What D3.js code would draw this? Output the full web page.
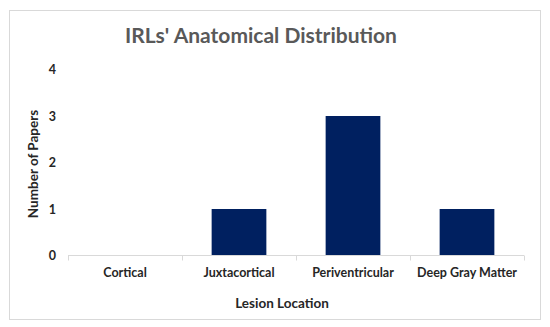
<!DOCTYPE html>
<html>
<head>
<meta charset="utf-8">
<script src="https://cdn.jsdelivr.net/npm/d3@7"></script>
<style>
  body { margin: 0; background: #fff; }
  svg { display: block; font-family: Lato, "Open Sans", sans-serif; }
</style>
</head>
<body>
<svg id="chart"></svg>
<script>
// chart data
const categories = ["Cortical", "Juxtacortical", "Periventricular", "Deep Gray Matter"];
const papers = [0, 1, 3, 1];
const yTicks = [0, 1, 2, 3, 4];

const WIDTH = 550;
const HEIGHT = 327;

const svg = d3.select("#chart")
  .attr("width", WIDTH)
  .attr("height", HEIGHT);

// outer chart frame
svg.append("rect")
  .attr("x", 9.5).attr("y", 10.5)
  .attr("width", 531).attr("height", 309)
  .attr("fill", "#fff")
  .attr("stroke", "#d9d9d9");

const plot = { left: 68, right: 524, top: 69.5, bottom: 255.5 };

const x = d3.scaleBand()
  .domain(categories)
  .range([plot.left, plot.right])
  .paddingInner(0.52)
  .paddingOuter(0.26);

const xEdge = d3.scaleLinear()
  .domain([0, categories.length])
  .range([plot.left, plot.right]);

const y = d3.scaleLinear()
  .domain([0, 4])
  .range([plot.bottom, plot.top]);

// title
svg.append("text")
  .attr("x", 261).attr("y", 43)
  .attr("text-anchor", "middle")
  .attr("font-size", 21)
  .attr("font-weight", "bold")
  .attr("fill", "#595959")
  .text("IRLs' Anatomical Distribution");

// bars
svg.selectAll(".bar")
  .data(categories)
  .enter()
  .append("rect")
  .attr("class", "bar")
  .attr("x", d => x(d))
  .attr("width", x.bandwidth())
  .attr("y", (d, i) => y(papers[i]))
  .attr("height", (d, i) => y(0) - y(papers[i]))
  .attr("fill", "#002060");

// x axis line with tick marks at category edges
svg.append("line")
  .attr("x1", plot.left).attr("x2", plot.right)
  .attr("y1", plot.bottom).attr("y2", plot.bottom)
  .attr("stroke", "#d9d9d9");

svg.selectAll(".xtick")
  .data(d3.range(categories.length + 1))
  .enter()
  .append("line")
  .attr("x1", d => Math.round(xEdge(d)) + 0.5)
  .attr("x2", d => Math.round(xEdge(d)) + 0.5)
  .attr("y1", plot.bottom).attr("y2", plot.bottom + 5)
  .attr("stroke", "#d9d9d9");

// category labels
svg.selectAll(".xlabel")
  .data(categories)
  .enter()
  .append("text")
  .attr("x", d => x(d) + x.bandwidth() / 2)
  .attr("y", 277)
  .attr("text-anchor", "middle")
  .attr("font-size", 12.5)
  .attr("font-weight", "bold")
  .attr("fill", "#262626")
  .text(d => d);

// y tick labels
svg.selectAll(".ylabel")
  .data(yTicks)
  .enter()
  .append("text")
  .attr("x", 56)
  .attr("y", d => y(d) + 4.5)
  .attr("text-anchor", "end")
  .attr("font-size", 12.5)
  .attr("font-weight", "bold")
  .attr("fill", "#262626")
  .text(d => d);

// axis titles
svg.append("text")
  .attr("x", 282).attr("y", 308)
  .attr("text-anchor", "middle")
  .attr("font-size", 13.5)
  .attr("font-weight", "bold")
  .attr("fill", "#262626")
  .text("Lesion Location");

svg.append("text")
  .attr("transform", "translate(38,164) rotate(-90)")
  .attr("text-anchor", "middle")
  .attr("font-size", 13.5)
  .attr("font-weight", "bold")
  .attr("fill", "#262626")
  .text("Number of Papers");
</script>
</body>
</html>
